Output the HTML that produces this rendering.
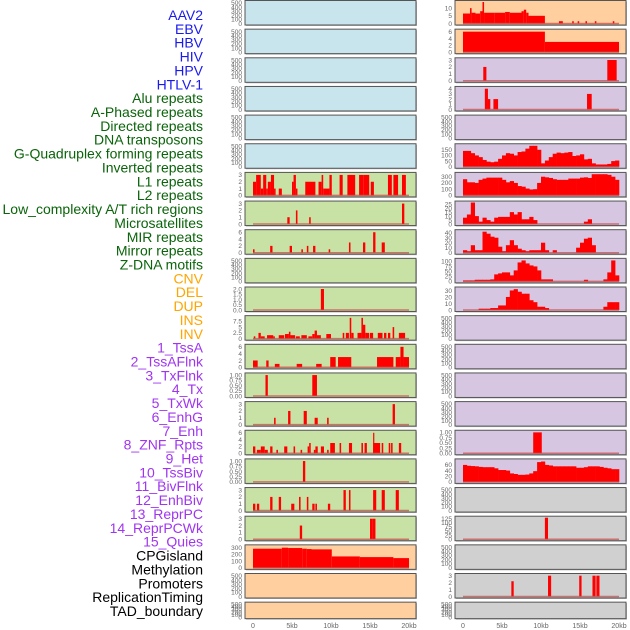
<!DOCTYPE html>
<html><head><meta charset="utf-8"><style>
html,body{margin:0;padding:0;background:#fff;}
svg{display:block;font-family:"Liberation Sans",sans-serif;}
</style></head><body>
<svg id="chart" width="630" height="630" viewBox="0 0 630 630"></svg>
<script>
// ---------- data ----------
const trackLabels = ["AAV2","EBV","HBV","HIV","HPV","HTLV-1","Alu repeats","A-Phased repeats","Directed repeats","DNA transposons","G-Quadruplex forming repeats","Inverted repeats","L1 repeats","L2 repeats","Low_complexity A/T rich regions","Microsatellites","MIR repeats","Mirror repeats","Z-DNA motifs","CNV","DEL","DUP","INS","INV","1_TssA","2_TssAFlnk","3_TxFlnk","4_Tx","5_TxWk","6_EnhG","7_Enh","8_ZNF_Rpts","9_Het","10_TssBiv","11_BivFlnk","12_EnhBiv","13_ReprPC","14_ReprPCWk","15_Quies","CPGisland","Methylation","Promoters","ReplicationTiming","TAD_boundary"];
const labelColors = ["#1a1aee","#1a1aee","#1a1aee","#1a1aee","#1a1aee","#1a1aee","#0a640a","#0a640a","#0a640a","#0a640a","#0a640a","#0a640a","#0a640a","#0a640a","#0a640a","#0a640a","#0a640a","#0a640a","#0a640a","#ffa500","#ffa500","#ffa500","#ffa500","#ffa500","#a035f0","#a035f0","#a035f0","#a035f0","#a035f0","#a035f0","#a035f0","#a035f0","#a035f0","#a035f0","#a035f0","#a035f0","#a035f0","#a035f0","#a035f0","#000","#000","#000","#000","#000"];
const xTickValues = [0,5,10,15,20];
const xTickLabels = ["0","5kb","10kb","15kb","20kb"];
const emptyTicks = [0,100,200,300,400,500];

// segment bars: [startKb, endKb, value]
const midL1 = [[0,0.4,2],[0.4,1,3],[1,1.3,1],[1.3,1.7,3],[1.7,1.9,1],[1.9,2.3,2],[2.3,2.7,3],[2.7,2.9,1],[3.3,3.7,1],[5,5.2,2],[5.2,5.5,3],[5.5,5.7,1],[6.7,8,2],[8.4,8.8,2],[8.8,9,3],[9,9.8,1],[9.8,10.1,3],[11.1,11.5,3],[12.1,13.1,3],[13.6,14.2,3],[14.2,14.9,3],[15.1,15.5,2],[17.3,17.8,3],[18,18.6,3],[19.1,19.6,3]];
const midL2 = [[4.4,4.7,1],[5.5,5.7,2],[7.2,7.4,1],[19.1,19.4,3]];
const midLowAT = [[0,0.2,1],[2.2,2.5,2],[4.7,5,2],[6.2,6.4,1],[6.9,7.1,2],[7.7,8,2],[9.7,9.9,1],[12.3,12.5,3],[14.1,14.4,3],[15.4,15.7,6],[16.5,16.9,3]];
const midMirror = [[8.7,9.1,2]];
const midCNV = [[0.1,0.3,1],[0.7,1,2.5],[1,1.5,1],[1.8,2.6,1.5],[2.6,2.8,1],[3.3,4,1.5],[4.1,4.6,2],[4.6,4.8,3],[4.8,5.4,1.5],[5.5,6,1],[6.2,6.9,1.5],[7.1,7.6,1],[7.6,7.9,2],[7.9,8.2,3.5],[8.2,8.7,1.5],[9.4,10,2],[11.5,11.7,2.5],[11.9,12.3,2.5],[12.4,12.6,9],[12.6,12.9,2.5],[13.4,13.9,2.5],[13.9,14.1,9],[14.1,14.4,6],[14.4,14.9,2.5],[15,15.4,2.5],[16,16.6,2.5],[16.8,17.1,2.5],[17.3,17.6,2.5],[17.9,18.1,5],[18.7,19.5,2.5]];
const midDEL = [[0,0.6,2],[1.7,2,2],[2.8,3.4,1],[5.6,6.3,1],[8.1,8.8,1],[9.9,10.6,3],[10.9,12.6,3],[15.9,18,3],[18.3,18.9,3],[18.9,19.3,6],[19.3,20,3]];
const midDUP = [[1.6,1.9,1],[7.6,8.2,1]];
const midINS = [[2.7,2.9,1],[4.5,4.8,2],[6.5,6.9,2],[7.9,8.3,1],[9.5,9.7,1],[17.9,18.2,3]];
const midINV = [[0,0.3,2],[0.5,1,1],[1,1.5,2],[1.5,1.9,1],[2.2,2.5,2],[3,3.2,1],[4,4.4,2],[5.2,5.4,2],[6.1,6.3,1],[7,7.2,2],[7.2,7.4,3],[7.8,8,1],[8,8.3,2],[8.7,9.1,2],[9.5,9.7,1],[9.9,10.5,3],[11.1,11.3,3],[12.3,12.7,3],[13.9,14.1,3],[14.3,14.6,3],[15.4,16.3,3],[15.4,15.5,6],[16.5,16.7,3],[17.4,17.6,3],[17.7,17.9,3],[18.7,19,3]];
const midTssA = [[6.4,6.7,1]];
const midTssAFlnk = [[0,0.3,1],[0.5,0.8,1],[2.2,2.5,2],[3.3,3.6,2],[4.9,5.3,1],[5.9,6.1,2],[6.9,7.1,2],[7.6,7.9,1],[8,8.2,1],[9.6,9.9,1],[11.6,11.9,3],[12.3,12.5,3],[15.4,15.8,3],[16.5,16.9,3],[18.3,18.7,3]];
const midTxFlnk = [[6,6.3,2],[15,15.3,3],[15.3,15.7,3]];
const midCpG = [[0,3.7,285],[3.7,4.5,300],[4.5,6.3,295],[6.3,6.9,285],[6.9,7.5,280],[7.5,10.1,275],[10.1,13.7,170],[13.7,18,160],[18,20,145]];
const rightAAV2 = [[0,0.9,6.5],[0.9,1.1,10],[1.1,1.6,7],[1.6,2.2,6.5],[2.2,2.5,8],[2.5,2.7,14],[2.7,4,7],[4,5.4,7],[5.4,6,7.5],[6,7.5,7],[7.5,7.8,8],[7.8,8.1,9],[8.1,8.4,7],[8.4,10.5,5],[12.3,12.8,1.5],[14,14.2,1.5],[14.7,14.9,1.5],[15.7,15.9,1.5],[16.9,17.1,1.5],[19.2,19.4,1.5]];
const rightEBV = [[0,10.5,6],[10.5,20,3]];
const rightHBV = [[2.6,3,2],[18.5,19.7,3]];
const rightHIV = [[2.8,3.2,4],[3.2,3.5,2],[3.9,4.5,2],[15.9,16.5,3]];
const rightTx = [[9,10.1,1]];
const rightReprPC = [[10.5,10.9,130]];
const rightPromoters = [[6.2,6.5,2.2],[10.9,11.3,3],[14.9,15.2,3],[16.6,17,3],[17.1,17.5,3]];

// binned profiles: 40 bins of 0.5 kb
const rightGQuad = [140,140,120,100,85,60,45,40,45,70,100,120,115,100,130,135,160,185,185,150,30,55,85,115,125,120,125,130,95,100,110,65,70,30,20,20,20,25,50,55];
const rightInverted = [260,210,210,200,250,270,285,285,285,285,250,210,230,200,150,140,110,95,100,200,300,290,280,260,250,250,250,270,270,270,285,290,280,340,340,340,340,330,300,250];
const rightL1 = [8,12,27,10,3,8,5,3,8,9,9,9,15,12,15,6,6,9,5,0,0,0,0,0,0,0,0,0,0,0,0,3,6,0,0,0,0,0,0,0];
const rightL2 = [5,3,15,5,5,42,38,32,30,12,3,15,25,15,8,5,3,5,5,5,20,5,0,5,0,0,0,0,0,10,20,28,30,15,0,0,0,0,0,0];
const rightLowAT = [5,5,5,8,8,8,8,10,35,40,45,45,30,55,95,105,90,80,75,55,10,10,10,0,0,0,0,0,0,0,0,8,0,0,0,0,10,45,105,30];
const rightMicro = [0,0,0,0,2,2,2,3,3,7,7,20,30,32,28,25,25,15,12,5,5,3,0,0,0,0,0,0,0,0,0,0,0,0,0,0,5,12,12,12];
const right4Tx = [60,57,56,55,53,52,52,52,48,42,42,40,30,28,25,25,26,30,38,70,72,60,58,55,55,55,55,55,55,50,50,52,55,55,55,53,50,48,45,45];

// panel config: [rowIndex, kind, ymax, ticks, data]
const midBg = ["#c8e4ec","#c8e4ec","#c8e4ec","#c8e4ec","#c8e4ec","#c8e4ec","#c8e2a5","#c8e2a5","#c8e2a5","#c8e2a5","#c8e2a5","#c8e2a5","#c8e2a5","#c8e2a5","#c8e2a5","#c8e2a5","#c8e2a5","#c8e2a5","#c8e2a5","#ffcf9f","#ffcf9f","#ffcf9f"];
const rightBg = ["#ffcf9f","#ffcf9f","#d6c6e2","#d6c6e2","#d6c6e2","#d6c6e2","#d6c6e2","#d6c6e2","#d6c6e2","#d6c6e2","#d6c6e2","#d6c6e2","#d6c6e2","#d6c6e2","#d6c6e2","#d6c6e2","#d6c6e2","#d0d0d0","#d0d0d0","#d0d0d0","#d0d0d0","#d0d0d0"];
const midPanels = {6:["seg",3.15,[0,1,2,3],midL1],7:["seg",3.15,[0,1,2,3],midL2],8:["seg",6.3,[0,2,4,6],midLowAT],10:["seg",2.05,[0,0.5,1,1.5,2],midMirror],11:["seg",9.3,[0,2.5,5,7.5],midCNV],12:["seg",6.3,[0,2,4,6],midDEL],13:["seg",1.03,[0,0.25,0.5,0.75,1],midDUP],14:["seg",3.15,[0,1,2,3],midINS],15:["seg",6.3,[0,2,4,6],midINV],16:["seg",1.03,[0,0.25,0.5,0.75,1],midTssA],17:["seg",3.15,[0,1,2,3],midTssAFlnk],18:["seg",3.15,[0,1,2,3],midTxFlnk],19:["seg",320,[0,100,200,300],midCpG]};
const rightPanels = {0:["seg",14,[0,5,10],rightAAV2],1:["seg",6.3,[0,2,4,6],rightEBV],2:["seg",3.1,[0,1,2,3],rightHBV],3:["seg",4.15,[0,1,2,3,4],rightHIV],5:["bin",190,[0,50,100,150],rightGQuad],6:["bin",345,[0,100,200,300],rightInverted],7:["bin",27,[0,5,10,15,20,25],rightL1],8:["bin",43,[0,10,20,30,40],rightL2],9:["bin",108,[0,25,50,75,100],rightLowAT],10:["bin",33,[0,10,20,30],rightMicro],15:["seg",1.03,[0,0.25,0.5,0.75,1],rightTx],16:["bin",76,[0,20,40,60],right4Tx],18:["seg",130,[0,25,50,75,100,125],rightReprPC],20:["seg",3.1,[0,1,2,3],rightPromoters]};

// ---------- drawing ----------
const svg = document.getElementById('chart');
const NS = 'http://www.w3.org/2000/svg';
function mk(tag, attrs, parent){ const e=document.createElementNS(NS,tag); for(const k in attrs) e.setAttribute(k,attrs[k]); (parent||svg).appendChild(e); return e; }

trackLabels.forEach((t,i)=>{
  const e = mk('text',{x:203,y:15+i*13.86+5,'text-anchor':'end','font-size':'14',fill:labelColors[i]});
  e.textContent=t;
  
  
});

const cols = [{left:245,right:416,x0:253,x1:409,bg:midBg,panels:midPanels,name:'left'},{left:455,right:626,x0:463,x1:619,bg:rightBg,panels:rightPanels,name:'right'}];
const ROWS = 22;
cols.forEach(c=>{
  const xs = kb => c.x0 + kb/20*(c.x1-c.x0);
  for(let r=0;r<ROWS;r++){
    const top = 0.5 + r*28.65;
    const h = r===21 ? 16.5 : 24.5;
    const bottom = top+h;
    const g = mk('g',{});
    
    
    mk('rect',{x:c.left+1,y:top+1,width:c.right-c.left,height:h,fill:'#bbb'},g);
    mk('rect',{x:c.left,y:top,width:c.right-c.left,height:h,fill:c.bg[r],stroke:'#555','stroke-width':1},g);
    const p = c.panels[r];
    const ymax = p ? p[1] : 520;
    const ticks = p ? p[2] : emptyTicks;
    const ys = v => bottom - 1.5 - v/ymax*(h-3);
    ticks.forEach(v=>{
      const t = mk('text',{x:c.left-3,y:ys(v)+2.3,'text-anchor':'end','font-size':'6.5',fill:'#666'},g);
      t.textContent = (ymax<3 && ymax>1.5) ? v.toFixed(1) : (ymax<1.5 ? v.toFixed(2) : String(v));
      
      
    });
    if(!p) continue;
    if(p[0]==='seg'){
      p[3].forEach(s=>{
        const b = mk('rect',{x:xs(s[0]),y:ys(s[2]),width:Math.max(1.2,xs(s[1])-xs(s[0])),height:ys(0)-ys(s[2]),fill:'#ff0000'},g);
        
        
      });
    } else {
      p[3].forEach((v,i)=>{
        if(v<=0) return;
        const b = mk('rect',{x:xs(i*0.5),y:ys(v),width:xs(0.5)-xs(0)+0.3,height:ys(0)-ys(v),fill:'#ff0000'},g);
        
        
      });
    }
    const bl = mk('line',{x1:xs(0),x2:xs(20),y1:ys(0),y2:ys(0),stroke:'#c84848','stroke-width':1.5,'stroke-opacity':0.7},g);
    
    
  }
  xTickValues.forEach((v,i)=>{
    const t = mk('text',{x:xs(v),y:628,'text-anchor':'middle','font-size':'7',fill:'#666'});
    t.textContent = xTickLabels[i];
    
    
  });
});
</script>
</body></html>
